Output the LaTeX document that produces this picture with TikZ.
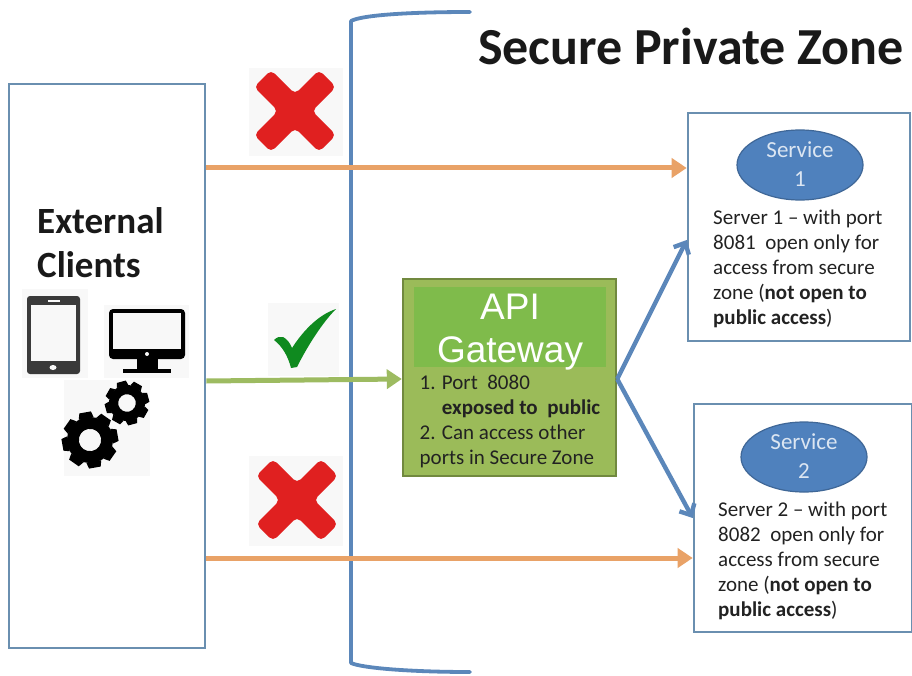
\documentclass[tikz,border=0pt]{standalone}
\usepackage{fontspec}
\setmainfont{Carlito}
\newfontfamily\arialfont{Liberation Sans}
\usetikzlibrary{shapes.geometric,arrows.meta}
\definecolor{boxblue}{HTML}{6A8FB0}
\definecolor{linkblue}{HTML}{5B87BA}
\definecolor{orangeline}{HTML}{E9A267}
\definecolor{greenline}{HTML}{9DBB61}
\definecolor{gwfill}{HTML}{9BBB59}
\definecolor{gwedge}{HTML}{71893F}
\definecolor{gwhead}{HTML}{7FBB4B}
\definecolor{ellfill}{HTML}{4F81BD}
\definecolor{ellline}{HTML}{3F6797}
\definecolor{ink}{HTML}{222222}
\definecolor{icon}{HTML}{3A3A3A}
\definecolor{xred}{HTML}{E02020}
\definecolor{tick}{HTML}{0F8A1F}
\definecolor{iconbg}{HTML}{F8F8F8}
\tikzset{
  panel/.style={draw=boxblue,line width=2.6pt,fill=white,minimum width=#1,inner sep=0pt},
  link/.style={line width=5pt,-{Triangle[length=15pt,width=19pt]}},
  barblink/.style={line width=4.4pt,linkblue,-{Straight Barb[length=9pt,width=17pt]}},
  bodytext/.style={font=\fontsize{21}{25}\selectfont,text=ink,align=left,anchor=north west,inner sep=0pt},
  svc/.style={ellipse,draw=ellline,line width=1.2pt,fill=ellfill,minimum width=126pt,minimum height=70pt,inner sep=0pt,
    text=white!80!ellfill,align=center,font=\fontsize{23}{29}\selectfont},
  bg/.style={fill=iconbg,draw=none}
}
\newcommand{\drawcross}[2]{%
  \begin{scope}[shift={(#1,#2)}]
    \fill[xred,rounded corners=5pt] (-41,-24) -- (-24,-41) -- (0,-17) -- (24,-41) -- (41,-24) -- (17,0) -- (41,24) -- (24,41) -- (0,17) -- (-24,41) -- (-41,24) -- (-17,0) -- cycle;
  \end{scope}}
\newcommand{\drawgear}[4]{%
  \begin{scope}[shift={(#1,#2)},rotate=#4]
    \foreach \a in {0,45,...,315}{
      \fill[black,rotate=\a] (-0.27*#3,-0.78*#3) -- (0.27*#3,-0.78*#3) -- (0.21*#3,-1.0*#3) -- (-0.21*#3,-1.0*#3) -- cycle;
    }
    \fill[black,even odd rule] (0,0) circle[radius=0.82*#3] (0,0) circle[radius=0.4*#3];
  \end{scope}}
\begin{document}
\begin{tikzpicture}[x=1pt,y=-1pt]
\useasboundingbox (0,0) rectangle (912,676);
\fill[white] (0,0) rectangle (912,676);
% boxes
\node[panel=196pt,minimum height=564pt] (ext) at (107,366) {};
\node[panel=222pt,minimum height=228pt] (srv1) at (799,227) {};
\node[panel=218pt,minimum height=228pt] (srv2) at (803,518) {};
\node[draw=gwedge,line width=2.4pt,fill=gwfill,minimum width=213pt,minimum height=197pt,inner sep=0pt] (gw) at (509.5,377.5) {};
% icon backgrounds
\fill[bg] (249,68) rectangle (343,156);
\fill[bg] (249,456) rectangle (343,546);
\fill[bg] (268,303) rectangle (339,376);
\fill[bg] (22,289) rectangle (88,378);
\fill[bg] (104,305) rectangle (189,378);
\fill[bg] (64,380) rectangle (150,476);
% bracket
\coordinate (brtop) at (470,12);
\coordinate (brbot) at (470,672);
\draw[linkblue,line width=3.8pt,line cap=round,line join=round] (brtop) .. controls (410,12) and (362,15) .. (351,21) -- (351,663) .. controls (362,668) and (410,672) .. (brbot);
% links
\coordinate (a1) at (ext.east |- 0,168);
\coordinate (b1) at (srv1.west |- 0,168);
\coordinate (a2) at (ext.east |- 0,381);
\coordinate (b2) at (gw.west |- 0,379);
\coordinate (a3) at (ext.east |- 0,558);
\coordinate (b3) at (srv2.west |- 0,558);
\coordinate (c1) at (gw.east |- 0,379);
\coordinate (d1) at (srv1.west |- 0,240);
\coordinate (d2) at (srv2.west |- 0,518);
\draw[link,orangeline] (a1) -- (b1);
\draw[link,orangeline] (a3) -- (b3);
\draw[link,greenline] (a2) -- (b2);
\draw[barblink] (c1) -- (d1);
\draw[barblink] (c1) -- (d2);
% crosses
\drawcross{295}{111}
\drawcross{297}{500}
% tick
\fill[tick] (274,340) .. controls (277,337) and (280,336) .. (283,337) .. controls (287,339) and (290,343) .. (292,348) .. controls (303,331) and (318,315) .. (336,309) .. controls (322,323) and (307,347) .. (297,367) -- (291,368) .. controls (288,356) and (282,346) .. (274,340) -- cycle;
% tablet
\fill[icon,rounded corners=3pt] (27,296) rectangle (80,374);
\fill[iconbg] (31,305) rectangle (76,361);
\fill[iconbg] (53,367.5) ellipse[x radius=3.5,y radius=2.5];
\fill[iconbg] (48,299.5) rectangle (60,301.5);
% monitor
\fill[black,rounded corners=4pt] (109,309) rectangle (185,359);
\fill[iconbg] (113,313) rectangle (181,349);
\fill[iconbg] (147,354) circle[radius=2];
\fill[black] (137,359) rectangle (158,369);
\fill[black] (123,369) rectangle (171,373);
% gears
\drawgear{90}{440}{28}{10}
\drawgear{127}{403}{22}{15}
% service ellipses
\node[svc,text depth=0pt] (s1) at (800,165) {\raisebox{2pt}{Service}\\\raisebox{2pt}{1}};
\node[svc,text depth=0pt] (s2) at (804,457) {\raisebox{2pt}{Service}\\\raisebox{2pt}{2}};
% gateway head
\fill[gwhead] (414,287) rectangle (606,367);
\node[text=white,align=center,font=\arialfont\fontsize{37}{43}\selectfont,inner sep=0pt] (gwt) at (510,332) {API\\Gateway};
% texts
\node[anchor=north west,inner sep=0pt,font=\fontsize{37}{44}\selectfont\bfseries,align=left,text=black!90] (ct) at (37,207) {External\\Clients};
\node[anchor=center,inner sep=0pt,font=\fontsize{52}{56}\selectfont\bfseries,text=black!90] (title) at (691,46) {Secure Private Zone};
\node[bodytext] (g1) at (419.5,375) {1. Port\ \ 8080\\\phantom{1. }\textbf{exposed to\ \ public}\\2. Can access other\\ports in Secure Zone};
\node[bodytext] (t1) at (713,210) {Server 1 – with port\\8081\ \ open only for\\access from secure\\zone (\textbf{not open to}\\\textbf{public access})};
\node[bodytext] (t2) at (718,502) {Server 2 – with port\\8082\ \ open only for\\access from secure\\zone (\textbf{not open to}\\\textbf{public access})};
\end{tikzpicture}
\end{document}
